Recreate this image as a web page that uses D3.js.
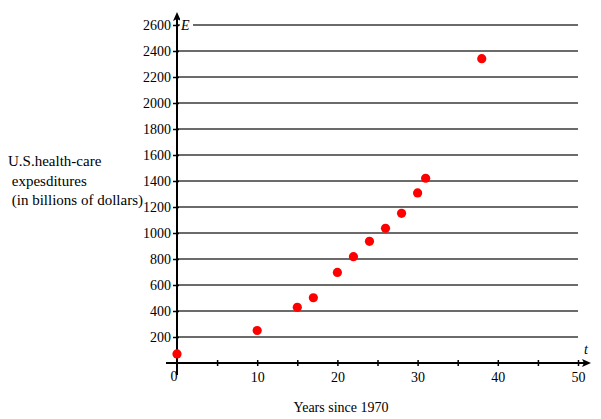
<!DOCTYPE html>
<html><head><meta charset="utf-8">
<script src="https://cdn.jsdelivr.net/npm/d3@7"></script>
<style>body{margin:0;background:#fff}svg{display:block}svg text{font-family:'Liberation Serif','Times New Roman',Times,'DejaVu Serif',serif !important;fill:#000}</style>
</head><body>
<script>
const years = [0, 10, 15, 17, 20, 22, 24, 26, 28, 30, 31, 38];
const expenditures = [70, 250, 428, 502, 697, 818, 936, 1036, 1151, 1308, 1421, 2341];
const yTicks = [200,400,600,800,1000,1200,1400,1600,1800,2000,2200,2400,2600];
const xTicks = [5,10,15,20,25,30,35,40,45,50];
const xLabels = [10,20,30,40,50];
const yTitle = ["U.S.health-care", " expesditures", " (in billions of dollars)"];
const xTitle = "Years since 1970";

const W=601,H=419;
const svg=d3.select("body").append("svg").attr("width",W).attr("height",H);
const x=d3.scaleLinear().domain([0,50]).range([177,578]);
const y=d3.scaleLinear().domain([0,2600]).range([363,25]);

// gridlines
svg.append("g").selectAll("line").data(yTicks).join("line")
 .attr("x1",x(0)).attr("x2",x(50)).attr("y1",d=>y(d)).attr("y2",d=>y(d))
 .attr("stroke","#3a3a3a").attr("stroke-width",1.3);

// y axis
const ya=svg.append("g").attr("transform",`translate(${x(0)},0)`)
 .call(d3.axisLeft(y).tickValues(yTicks).tickSize(4).tickPadding(2).tickFormat(d3.format("d")));
ya.attr("font-family",null);
ya.select(".domain").remove();
ya.selectAll(".tick line").attr("stroke","#000").attr("stroke-width",1.5).attr("x2",2).attr("x1",-4);
ya.selectAll(".tick text").style("font-size","14px");

// x axis
const xa=svg.append("g").attr("transform",`translate(0,${y(0)})`)
 .call(d3.axisBottom(x).tickValues(xTicks).tickSize(4).tickFormat(d=>xLabels.includes(d)?d:""));
xa.attr("font-family",null);
xa.select(".domain").remove();
xa.selectAll(".tick line").attr("stroke","#000").attr("stroke-width",1.5).attr("y1",-3).attr("y2",3);
xa.selectAll(".tick text").style("font-size","14px").attr("y",9);
svg.append("text").attr("x",x(0)-3).attr("y",y(0)+18).attr("text-anchor","middle").style("font-size","14px").text("0");

// axes lines with arrows
svg.append("line").attr("x1",166).attr("x2",588).attr("y1",y(0)).attr("y2",y(0)).attr("stroke","#000").attr("stroke-width",2);
svg.append("path").attr("d",`M${591},${y(0)} L${582},${y(0)-4} L${584},${y(0)} L${582},${y(0)+4}Z`).attr("fill","#000");
svg.append("line").attr("x1",x(0)).attr("x2",x(0)).attr("y1",375).attr("y2",16).attr("stroke","#000").attr("stroke-width",2);
svg.append("path").attr("d",`M${x(0)},12 L${x(0)-4},21 L${x(0)},19 L${x(0)+4},21Z`).attr("fill","#000");

// axis letters
svg.append("rect").attr("x",180).attr("y",17).attr("width",13).attr("height",16).attr("fill","#fff");
svg.append("text").attr("x",181).attr("y",30).style("font-size","14px").style("font-style","italic").text("E");
svg.append("text").attr("x",584).attr("y",354).style("font-size","14px").style("font-style","italic").text("t");

// points
svg.append("g").selectAll("circle").data(years.map((t,i)=>[t,expenditures[i]])).join("circle")
 .attr("cx",d=>x(d[0])).attr("cy",d=>y(d[1])).attr("r",4.6).attr("fill","#ff0000");

// titles
const yt=svg.append("text").style("font-size","15px").attr("y",166);
yTitle.forEach((s,i)=>yt.append("tspan").attr("x",8).attr("dy",i?19.5:0).attr("xml:space","preserve").style("white-space","pre").text(s));
svg.append("text").attr("x",341).attr("y",412).attr("text-anchor","middle").style("font-size","14px").text(xTitle);
</script>
</body></html>
